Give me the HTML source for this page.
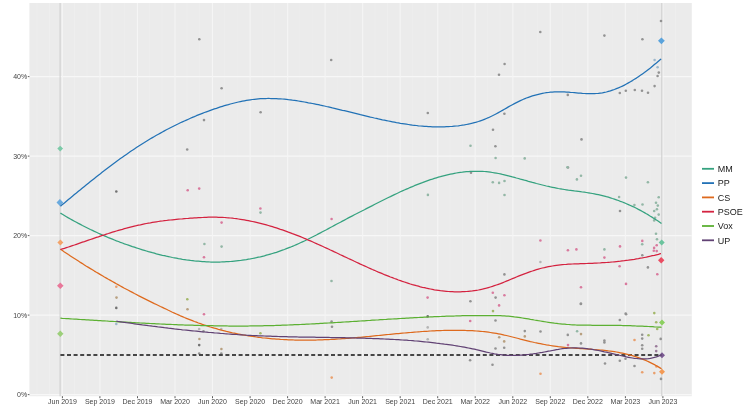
<!DOCTYPE html><html><head><meta charset="utf-8"><style>html,body{margin:0;padding:0;background:#fff;}svg{display:block;font-family:"Liberation Sans",sans-serif;will-change:transform;}</style></head><body><svg width="750" height="417" viewBox="0 0 750 417">
<rect x="0" y="0" width="750" height="417" fill="#ffffff"/>
<rect x="29.4" y="3.0" width="662.4" height="393.2" fill="#EBEBEB"/>
<line x1="36.9" y1="3.0" x2="36.9" y2="396.2" stroke="#EEEEEE" stroke-width="0.6"/>
<line x1="49.4" y1="3.0" x2="49.4" y2="396.2" stroke="#EEEEEE" stroke-width="0.6"/>
<line x1="74.4" y1="3.0" x2="74.4" y2="396.2" stroke="#EEEEEE" stroke-width="0.6"/>
<line x1="86.9" y1="3.0" x2="86.9" y2="396.2" stroke="#EEEEEE" stroke-width="0.6"/>
<line x1="112.0" y1="3.0" x2="112.0" y2="396.2" stroke="#EEEEEE" stroke-width="0.6"/>
<line x1="124.5" y1="3.0" x2="124.5" y2="396.2" stroke="#EEEEEE" stroke-width="0.6"/>
<line x1="149.5" y1="3.0" x2="149.5" y2="396.2" stroke="#EEEEEE" stroke-width="0.6"/>
<line x1="162.1" y1="3.0" x2="162.1" y2="396.2" stroke="#EEEEEE" stroke-width="0.6"/>
<line x1="187.1" y1="3.0" x2="187.1" y2="396.2" stroke="#EEEEEE" stroke-width="0.6"/>
<line x1="199.6" y1="3.0" x2="199.6" y2="396.2" stroke="#EEEEEE" stroke-width="0.6"/>
<line x1="224.7" y1="3.0" x2="224.7" y2="396.2" stroke="#EEEEEE" stroke-width="0.6"/>
<line x1="237.2" y1="3.0" x2="237.2" y2="396.2" stroke="#EEEEEE" stroke-width="0.6"/>
<line x1="262.2" y1="3.0" x2="262.2" y2="396.2" stroke="#EEEEEE" stroke-width="0.6"/>
<line x1="274.7" y1="3.0" x2="274.7" y2="396.2" stroke="#EEEEEE" stroke-width="0.6"/>
<line x1="299.8" y1="3.0" x2="299.8" y2="396.2" stroke="#EEEEEE" stroke-width="0.6"/>
<line x1="312.3" y1="3.0" x2="312.3" y2="396.2" stroke="#EEEEEE" stroke-width="0.6"/>
<line x1="337.3" y1="3.0" x2="337.3" y2="396.2" stroke="#EEEEEE" stroke-width="0.6"/>
<line x1="349.9" y1="3.0" x2="349.9" y2="396.2" stroke="#EEEEEE" stroke-width="0.6"/>
<line x1="374.9" y1="3.0" x2="374.9" y2="396.2" stroke="#EEEEEE" stroke-width="0.6"/>
<line x1="387.4" y1="3.0" x2="387.4" y2="396.2" stroke="#EEEEEE" stroke-width="0.6"/>
<line x1="412.5" y1="3.0" x2="412.5" y2="396.2" stroke="#EEEEEE" stroke-width="0.6"/>
<line x1="425.0" y1="3.0" x2="425.0" y2="396.2" stroke="#EEEEEE" stroke-width="0.6"/>
<line x1="450.0" y1="3.0" x2="450.0" y2="396.2" stroke="#EEEEEE" stroke-width="0.6"/>
<line x1="462.5" y1="3.0" x2="462.5" y2="396.2" stroke="#EEEEEE" stroke-width="0.6"/>
<line x1="487.6" y1="3.0" x2="487.6" y2="396.2" stroke="#EEEEEE" stroke-width="0.6"/>
<line x1="500.1" y1="3.0" x2="500.1" y2="396.2" stroke="#EEEEEE" stroke-width="0.6"/>
<line x1="525.1" y1="3.0" x2="525.1" y2="396.2" stroke="#EEEEEE" stroke-width="0.6"/>
<line x1="537.7" y1="3.0" x2="537.7" y2="396.2" stroke="#EEEEEE" stroke-width="0.6"/>
<line x1="562.7" y1="3.0" x2="562.7" y2="396.2" stroke="#EEEEEE" stroke-width="0.6"/>
<line x1="575.2" y1="3.0" x2="575.2" y2="396.2" stroke="#EEEEEE" stroke-width="0.6"/>
<line x1="600.3" y1="3.0" x2="600.3" y2="396.2" stroke="#EEEEEE" stroke-width="0.6"/>
<line x1="612.8" y1="3.0" x2="612.8" y2="396.2" stroke="#EEEEEE" stroke-width="0.6"/>
<line x1="637.8" y1="3.0" x2="637.8" y2="396.2" stroke="#EEEEEE" stroke-width="0.6"/>
<line x1="650.3" y1="3.0" x2="650.3" y2="396.2" stroke="#EEEEEE" stroke-width="0.6"/>
<line x1="675.4" y1="3.0" x2="675.4" y2="396.2" stroke="#EEEEEE" stroke-width="0.6"/>
<line x1="29.4" y1="394.6" x2="691.8" y2="394.6" stroke="#F7F7F7" stroke-width="1.1"/>
<line x1="29.4" y1="315.1" x2="691.8" y2="315.1" stroke="#F7F7F7" stroke-width="1.1"/>
<line x1="29.4" y1="235.6" x2="691.8" y2="235.6" stroke="#F7F7F7" stroke-width="1.1"/>
<line x1="29.4" y1="156.1" x2="691.8" y2="156.1" stroke="#F7F7F7" stroke-width="1.1"/>
<line x1="29.4" y1="76.6" x2="691.8" y2="76.6" stroke="#F7F7F7" stroke-width="1.1"/>
<line x1="62.4" y1="3.0" x2="62.4" y2="396.2" stroke="#F5F5F5" stroke-width="1.1"/>
<line x1="99.9" y1="3.0" x2="99.9" y2="396.2" stroke="#F5F5F5" stroke-width="1.1"/>
<line x1="137.5" y1="3.0" x2="137.5" y2="396.2" stroke="#F5F5F5" stroke-width="1.1"/>
<line x1="175.0" y1="3.0" x2="175.0" y2="396.2" stroke="#F5F5F5" stroke-width="1.1"/>
<line x1="212.5" y1="3.0" x2="212.5" y2="396.2" stroke="#F5F5F5" stroke-width="1.1"/>
<line x1="250.1" y1="3.0" x2="250.1" y2="396.2" stroke="#F5F5F5" stroke-width="1.1"/>
<line x1="287.6" y1="3.0" x2="287.6" y2="396.2" stroke="#F5F5F5" stroke-width="1.1"/>
<line x1="325.1" y1="3.0" x2="325.1" y2="396.2" stroke="#F5F5F5" stroke-width="1.1"/>
<line x1="362.6" y1="3.0" x2="362.6" y2="396.2" stroke="#F5F5F5" stroke-width="1.1"/>
<line x1="400.2" y1="3.0" x2="400.2" y2="396.2" stroke="#F5F5F5" stroke-width="1.1"/>
<line x1="437.7" y1="3.0" x2="437.7" y2="396.2" stroke="#F5F5F5" stroke-width="1.1"/>
<line x1="475.2" y1="3.0" x2="475.2" y2="396.2" stroke="#F5F5F5" stroke-width="1.1"/>
<line x1="512.8" y1="3.0" x2="512.8" y2="396.2" stroke="#F5F5F5" stroke-width="1.1"/>
<line x1="550.3" y1="3.0" x2="550.3" y2="396.2" stroke="#F5F5F5" stroke-width="1.1"/>
<line x1="587.8" y1="3.0" x2="587.8" y2="396.2" stroke="#F5F5F5" stroke-width="1.1"/>
<line x1="625.4" y1="3.0" x2="625.4" y2="396.2" stroke="#F5F5F5" stroke-width="1.1"/>
<line x1="662.9" y1="3.0" x2="662.9" y2="396.2" stroke="#F5F5F5" stroke-width="1.1"/>
<line x1="60.1" y1="3.0" x2="60.1" y2="396.2" stroke="#CFCFCF" stroke-width="1.1"/>
<line x1="661.8" y1="3.0" x2="661.8" y2="396.2" stroke="#CFCFCF" stroke-width="1.1"/>
<circle cx="199.3" cy="39.3" r="1.3" fill="#939393"/>
<circle cx="221.6" cy="88.2" r="1.3" fill="#939393"/>
<circle cx="204.0" cy="120.1" r="1.3" fill="#939393"/>
<circle cx="260.6" cy="112.3" r="1.3" fill="#939393"/>
<circle cx="187.2" cy="149.5" r="1.3" fill="#939393"/>
<circle cx="116.3" cy="191.5" r="1.3" fill="#727272"/>
<circle cx="331.2" cy="60.0" r="1.3" fill="#939393"/>
<circle cx="427.8" cy="113.0" r="1.3" fill="#939393"/>
<circle cx="470.5" cy="145.7" r="1.3" fill="#93b7a6"/>
<circle cx="493.0" cy="129.8" r="1.3" fill="#939393"/>
<circle cx="495.4" cy="146.3" r="1.3" fill="#939393"/>
<circle cx="495.6" cy="158.0" r="1.3" fill="#93b7a6"/>
<circle cx="499.0" cy="74.8" r="1.3" fill="#939393"/>
<circle cx="504.6" cy="64.0" r="1.3" fill="#939393"/>
<circle cx="504.4" cy="113.8" r="1.3" fill="#939393"/>
<circle cx="524.7" cy="158.4" r="1.3" fill="#93b7a6"/>
<circle cx="540.3" cy="32.0" r="1.3" fill="#939393"/>
<circle cx="567.8" cy="94.9" r="1.3" fill="#939393"/>
<circle cx="581.5" cy="139.4" r="1.3" fill="#939393"/>
<circle cx="568.0" cy="167.5" r="1.3" fill="#939393"/>
<circle cx="604.4" cy="35.6" r="1.3" fill="#939393"/>
<circle cx="642.4" cy="39.3" r="1.3" fill="#939393"/>
<circle cx="661.0" cy="21.0" r="1.3" fill="#939393"/>
<circle cx="654.6" cy="60.0" r="1.3" fill="#9db8cc"/>
<circle cx="657.6" cy="67.2" r="1.3" fill="#9db8cc"/>
<circle cx="658.8" cy="72.6" r="1.3" fill="#939393"/>
<circle cx="657.6" cy="76.0" r="1.3" fill="#939393"/>
<circle cx="654.6" cy="86.1" r="1.3" fill="#939393"/>
<circle cx="619.8" cy="93.0" r="1.3" fill="#939393"/>
<circle cx="625.8" cy="90.8" r="1.3" fill="#939393"/>
<circle cx="634.8" cy="90.0" r="1.3" fill="#939393"/>
<circle cx="642.0" cy="90.8" r="1.3" fill="#939393"/>
<circle cx="648.0" cy="92.7" r="1.3" fill="#939393"/>
<circle cx="204.4" cy="244.0" r="1.3" fill="#93b7a6"/>
<circle cx="221.6" cy="246.6" r="1.3" fill="#93b7a6"/>
<circle cx="260.5" cy="212.6" r="1.3" fill="#93b7a6"/>
<circle cx="331.5" cy="281.0" r="1.3" fill="#93b7a6"/>
<circle cx="427.9" cy="194.9" r="1.3" fill="#93b7a6"/>
<circle cx="471.0" cy="172.8" r="1.3" fill="#939393"/>
<circle cx="492.8" cy="182.2" r="1.3" fill="#93b7a6"/>
<circle cx="499.1" cy="182.9" r="1.3" fill="#93b7a6"/>
<circle cx="504.5" cy="181.0" r="1.3" fill="#93b7a6"/>
<circle cx="504.5" cy="195.0" r="1.3" fill="#93b7a6"/>
<circle cx="576.9" cy="179.4" r="1.3" fill="#93b7a6"/>
<circle cx="581.0" cy="175.8" r="1.3" fill="#93b7a6"/>
<circle cx="567.4" cy="167.3" r="1.3" fill="#93b7a6"/>
<circle cx="626.0" cy="177.6" r="1.3" fill="#93b7a6"/>
<circle cx="647.9" cy="182.2" r="1.3" fill="#93b7a6"/>
<circle cx="619.1" cy="197.0" r="1.3" fill="#93b7a6"/>
<circle cx="620.0" cy="211.0" r="1.3" fill="#939393"/>
<circle cx="634.4" cy="205.1" r="1.3" fill="#93b7a6"/>
<circle cx="642.5" cy="204.5" r="1.3" fill="#93b7a6"/>
<circle cx="658.7" cy="197.3" r="1.3" fill="#93b7a6"/>
<circle cx="656.0" cy="202.7" r="1.3" fill="#93b7a6"/>
<circle cx="657.8" cy="205.6" r="1.3" fill="#93b7a6"/>
<circle cx="656.9" cy="209.2" r="1.3" fill="#93b7a6"/>
<circle cx="654.2" cy="211.0" r="1.3" fill="#93b7a6"/>
<circle cx="658.7" cy="214.6" r="1.3" fill="#93b7a6"/>
<circle cx="655.1" cy="217.7" r="1.3" fill="#93b7a6"/>
<circle cx="654.2" cy="220.4" r="1.3" fill="#93b7a6"/>
<circle cx="656.0" cy="233.8" r="1.3" fill="#93b7a6"/>
<circle cx="604.4" cy="249.4" r="1.3" fill="#93b7a6"/>
<circle cx="642.2" cy="244.2" r="1.3" fill="#93b7a6"/>
<circle cx="657.0" cy="239.2" r="1.3" fill="#93b7a6"/>
<circle cx="187.7" cy="190.3" r="1.3" fill="#d97a9e"/>
<circle cx="199.2" cy="188.6" r="1.3" fill="#d97a9e"/>
<circle cx="221.6" cy="222.6" r="1.3" fill="#d97a9e"/>
<circle cx="260.4" cy="208.5" r="1.3" fill="#d97a9e"/>
<circle cx="204.0" cy="257.2" r="1.3" fill="#d97a9e"/>
<circle cx="331.6" cy="219.0" r="1.3" fill="#d97a9e"/>
<circle cx="427.6" cy="297.6" r="1.3" fill="#d97a9e"/>
<circle cx="470.4" cy="301.2" r="1.3" fill="#939393"/>
<circle cx="492.8" cy="292.8" r="1.3" fill="#d97a9e"/>
<circle cx="495.6" cy="297.6" r="1.3" fill="#939393"/>
<circle cx="504.4" cy="295.2" r="1.3" fill="#d97a9e"/>
<circle cx="499.1" cy="305.4" r="1.3" fill="#d97a9e"/>
<circle cx="504.4" cy="274.4" r="1.3" fill="#939393"/>
<circle cx="540.4" cy="240.5" r="1.3" fill="#d97a9e"/>
<circle cx="540.4" cy="262.0" r="1.3" fill="#b5b5b5"/>
<circle cx="567.9" cy="250.3" r="1.3" fill="#d97a9e"/>
<circle cx="576.4" cy="249.4" r="1.3" fill="#d97a9e"/>
<circle cx="581.0" cy="287.2" r="1.3" fill="#d97a9e"/>
<circle cx="581.0" cy="303.7" r="1.3" fill="#939393"/>
<circle cx="604.4" cy="257.6" r="1.3" fill="#d97a9e"/>
<circle cx="620.0" cy="246.4" r="1.3" fill="#d97a9e"/>
<circle cx="619.6" cy="266.2" r="1.3" fill="#d97a9e"/>
<circle cx="626.0" cy="283.9" r="1.3" fill="#d97a9e"/>
<circle cx="625.7" cy="313.6" r="1.3" fill="#939393"/>
<circle cx="642.3" cy="240.9" r="1.3" fill="#d97a9e"/>
<circle cx="642.3" cy="255.3" r="1.3" fill="#939393"/>
<circle cx="647.9" cy="267.4" r="1.3" fill="#939393"/>
<circle cx="656.7" cy="245.2" r="1.3" fill="#d97a9e"/>
<circle cx="654.1" cy="247.9" r="1.3" fill="#d97a9e"/>
<circle cx="653.8" cy="250.7" r="1.3" fill="#d97a9e"/>
<circle cx="656.7" cy="251.1" r="1.3" fill="#d97a9e"/>
<circle cx="657.3" cy="274.2" r="1.3" fill="#d97a9e"/>
<circle cx="116.3" cy="286.7" r="1.3" fill="#e9a06e"/>
<circle cx="116.5" cy="297.6" r="1.3" fill="#b8a080"/>
<circle cx="116.3" cy="307.9" r="1.3" fill="#727272"/>
<circle cx="116.3" cy="324.0" r="1.3" fill="#9db8cc"/>
<circle cx="187.3" cy="299.3" r="1.3" fill="#a3b86a"/>
<circle cx="187.5" cy="309.2" r="1.3" fill="#b8a080"/>
<circle cx="204.0" cy="314.2" r="1.3" fill="#d97a9e"/>
<circle cx="199.2" cy="329.0" r="1.3" fill="#b5b5b5"/>
<circle cx="203.5" cy="331.3" r="1.3" fill="#939393"/>
<circle cx="199.4" cy="339.0" r="1.3" fill="#b8a080"/>
<circle cx="199.2" cy="345.1" r="1.3" fill="#727272"/>
<circle cx="199.2" cy="353.6" r="1.3" fill="#939393"/>
<circle cx="221.3" cy="329.0" r="1.3" fill="#b5b5b5"/>
<circle cx="221.4" cy="349.0" r="1.3" fill="#b8a080"/>
<circle cx="221.3" cy="353.6" r="1.3" fill="#939393"/>
<circle cx="260.4" cy="333.2" r="1.3" fill="#a3b86a"/>
<circle cx="331.6" cy="321.6" r="1.3" fill="#939393"/>
<circle cx="332.0" cy="326.8" r="1.3" fill="#939393"/>
<circle cx="331.7" cy="377.6" r="1.3" fill="#e9a06e"/>
<circle cx="427.7" cy="316.4" r="1.3" fill="#727272"/>
<circle cx="427.7" cy="327.4" r="1.3" fill="#b5b5b5"/>
<circle cx="427.7" cy="339.3" r="1.3" fill="#b5b5b5"/>
<circle cx="470.2" cy="321.0" r="1.3" fill="#d97a9e"/>
<circle cx="470.1" cy="360.3" r="1.3" fill="#939393"/>
<circle cx="493.0" cy="311.1" r="1.3" fill="#a3b86a"/>
<circle cx="495.5" cy="320.5" r="1.3" fill="#939393"/>
<circle cx="499.2" cy="337.3" r="1.3" fill="#b8a080"/>
<circle cx="504.2" cy="341.4" r="1.3" fill="#b8a080"/>
<circle cx="495.5" cy="348.5" r="1.3" fill="#939393"/>
<circle cx="504.2" cy="347.7" r="1.3" fill="#939393"/>
<circle cx="492.5" cy="364.7" r="1.3" fill="#939393"/>
<circle cx="524.8" cy="331.1" r="1.3" fill="#939393"/>
<circle cx="524.8" cy="336.4" r="1.3" fill="#b8a080"/>
<circle cx="540.5" cy="331.5" r="1.3" fill="#939393"/>
<circle cx="540.5" cy="373.7" r="1.3" fill="#e9a06e"/>
<circle cx="567.8" cy="334.9" r="1.3" fill="#939393"/>
<circle cx="568.0" cy="345.1" r="1.3" fill="#d97a9e"/>
<circle cx="577.1" cy="331.3" r="1.3" fill="#93b7a6"/>
<circle cx="581.0" cy="334.1" r="1.3" fill="#b8a080"/>
<circle cx="581.0" cy="343.4" r="1.3" fill="#939393"/>
<circle cx="580.8" cy="303.9" r="1.3" fill="#939393"/>
<circle cx="626.1" cy="314.2" r="1.3" fill="#939393"/>
<circle cx="654.3" cy="313.1" r="1.3" fill="#a3b86a"/>
<circle cx="619.8" cy="320.0" r="1.3" fill="#939393"/>
<circle cx="604.4" cy="340.5" r="1.3" fill="#939393"/>
<circle cx="604.4" cy="342.4" r="1.3" fill="#939393"/>
<circle cx="634.5" cy="340.0" r="1.3" fill="#e9a06e"/>
<circle cx="642.2" cy="334.8" r="1.3" fill="#939393"/>
<circle cx="642.2" cy="338.6" r="1.3" fill="#939393"/>
<circle cx="642.2" cy="345.3" r="1.3" fill="#939393"/>
<circle cx="642.2" cy="348.8" r="1.3" fill="#939393"/>
<circle cx="648.5" cy="335.3" r="1.3" fill="#a3b86a"/>
<circle cx="656.2" cy="322.3" r="1.3" fill="#a3b86a"/>
<circle cx="657.2" cy="329.0" r="1.3" fill="#a3b86a"/>
<circle cx="660.7" cy="338.9" r="1.3" fill="#939393"/>
<circle cx="656.2" cy="346.3" r="1.3" fill="#9a7a9a"/>
<circle cx="656.2" cy="351.1" r="1.3" fill="#9a7a9a"/>
<circle cx="619.8" cy="360.7" r="1.3" fill="#939393"/>
<circle cx="625.5" cy="358.7" r="1.3" fill="#939393"/>
<circle cx="605.0" cy="363.5" r="1.3" fill="#939393"/>
<circle cx="634.5" cy="366.0" r="1.3" fill="#939393"/>
<circle cx="642.2" cy="372.2" r="1.3" fill="#e9a06e"/>
<circle cx="654.3" cy="373.1" r="1.3" fill="#e9a06e"/>
<circle cx="656.4" cy="366.4" r="1.3" fill="#e9a06e"/>
<circle cx="661.0" cy="378.9" r="1.3" fill="#939393"/>
<path d="M60.2,145.7 L63.1,148.6 L60.2,151.5 L57.3,148.6 Z" fill="#7ccaa8"/>
<path d="M59.9,199.1 L63.3,202.5 L59.9,205.9 L56.5,202.5 Z" fill="#6aaade"/>
<path d="M60.4,239.5 L63.4,242.5 L60.4,245.5 L57.4,242.5 Z" fill="#f2a36a"/>
<path d="M60.3,282.5 L63.6,285.8 L60.3,289.1 L57.0,285.8 Z" fill="#e8789a"/>
<path d="M60.3,330.6 L63.5,333.8 L60.3,337.0 L57.1,333.8 Z" fill="#9ccf7a"/>
<path d="M661.4,37.4 L664.8,40.8 L661.4,44.2 L658.0,40.8 Z" fill="#5aa3dc"/>
<path d="M661.7,239.6 L664.7,242.6 L661.7,245.6 L658.7,242.6 Z" fill="#6cc49e"/>
<path d="M661.2,257.1 L664.4,260.3 L661.2,263.5 L658.0,260.3 Z" fill="#ea4d62"/>
<path d="M662,319.5 L665.0,322.5 L662,325.5 L659.0,322.5 Z" fill="#8cd060"/>
<path d="M662,352.2 L665.0,355.2 L662,358.2 L659.0,355.2 Z" fill="#7a5a92"/>
<path d="M662,368.7 L665.0,371.7 L662,374.7 L659.0,371.7 Z" fill="#f39a55"/>
<line x1="60.4" y1="355" x2="661.3" y2="355" stroke="#464646" stroke-width="1.8" stroke-dasharray="4 2.6"/>
<path d="M60.4,213.1 L62.4,214.3 L64.4,215.5 L66.4,216.7 L68.4,217.9 L70.4,219.0 L72.4,220.1 L74.4,221.2 L76.4,222.3 L78.4,223.4 L80.4,224.4 L82.4,225.5 L84.4,226.5 L86.4,227.5 L88.4,228.5 L90.4,229.5 L92.4,230.4 L94.4,231.4 L96.4,232.3 L98.4,233.2 L100.4,234.1 L102.4,235.0 L104.4,235.9 L106.4,236.7 L108.4,237.6 L110.4,238.4 L112.4,239.2 L114.4,240.0 L116.4,240.8 L118.4,241.5 L120.4,242.3 L122.4,243.0 L124.4,243.8 L126.4,244.5 L128.4,245.2 L130.4,245.9 L132.4,246.6 L134.4,247.2 L136.4,247.9 L138.4,248.5 L140.4,249.2 L142.4,249.8 L144.4,250.4 L146.4,251.0 L148.4,251.6 L150.4,252.1 L152.4,252.7 L154.4,253.2 L156.4,253.8 L158.4,254.3 L160.4,254.8 L162.4,255.3 L164.4,255.7 L166.4,256.2 L168.4,256.6 L170.4,257.0 L172.4,257.5 L174.4,257.8 L176.4,258.2 L178.4,258.6 L180.4,258.9 L182.4,259.3 L184.4,259.6 L186.4,259.9 L188.4,260.1 L190.4,260.4 L192.4,260.6 L194.4,260.9 L196.4,261.1 L198.4,261.2 L200.4,261.4 L202.4,261.6 L204.4,261.7 L206.4,261.8 L208.4,261.9 L210.4,262.0 L212.4,262.0 L214.4,262.0 L216.4,262.0 L218.4,262.0 L220.4,262.0 L222.4,261.9 L224.4,261.8 L226.4,261.7 L228.4,261.6 L230.4,261.5 L232.4,261.3 L234.4,261.1 L236.4,260.9 L238.4,260.7 L240.4,260.5 L242.4,260.2 L244.4,259.9 L246.4,259.6 L248.4,259.2 L250.4,258.9 L252.4,258.5 L254.4,258.1 L256.4,257.7 L258.4,257.2 L260.4,256.8 L262.4,256.3 L264.4,255.8 L266.4,255.2 L268.4,254.7 L270.4,254.1 L272.4,253.5 L274.4,252.9 L276.4,252.3 L278.4,251.6 L280.4,250.9 L282.4,250.2 L284.4,249.5 L286.4,248.7 L288.4,247.9 L290.4,247.2 L292.4,246.3 L294.4,245.5 L296.4,244.6 L298.4,243.7 L300.4,242.8 L302.4,241.9 L304.4,241.0 L306.4,240.0 L308.4,239.0 L310.4,238.0 L312.4,237.0 L314.4,236.0 L316.4,235.0 L318.4,233.9 L320.4,232.9 L322.4,231.8 L324.4,230.7 L326.4,229.7 L328.4,228.6 L330.4,227.5 L332.4,226.5 L334.4,225.4 L336.4,224.3 L338.4,223.2 L340.4,222.2 L342.4,221.1 L344.4,220.1 L346.4,219.0 L348.4,217.9 L350.4,216.9 L352.4,215.9 L354.4,214.8 L356.4,213.8 L358.4,212.7 L360.4,211.7 L362.4,210.7 L364.4,209.7 L366.4,208.6 L368.4,207.6 L370.4,206.6 L372.4,205.6 L374.4,204.5 L376.4,203.5 L378.4,202.5 L380.4,201.5 L382.4,200.5 L384.4,199.5 L386.4,198.5 L388.4,197.5 L390.4,196.6 L392.4,195.6 L394.4,194.6 L396.4,193.7 L398.4,192.8 L400.4,191.8 L402.4,190.9 L404.4,190.0 L406.4,189.1 L408.4,188.3 L410.4,187.4 L412.4,186.6 L414.4,185.7 L416.4,184.9 L418.4,184.1 L420.4,183.3 L422.4,182.6 L424.4,181.8 L426.4,181.1 L428.4,180.4 L430.4,179.7 L432.4,179.1 L434.4,178.4 L436.4,177.8 L438.4,177.2 L440.4,176.7 L442.4,176.1 L444.4,175.6 L446.4,175.1 L448.4,174.6 L450.4,174.2 L452.4,173.8 L454.4,173.4 L456.4,173.0 L458.4,172.7 L460.4,172.4 L462.4,172.2 L464.4,171.9 L466.4,171.7 L468.4,171.6 L470.4,171.4 L472.4,171.3 L474.4,171.3 L476.4,171.3 L478.4,171.3 L480.4,171.3 L482.4,171.4 L484.4,171.5 L486.4,171.7 L488.4,171.9 L490.4,172.2 L492.4,172.5 L494.4,172.8 L496.4,173.1 L498.4,173.5 L500.4,173.9 L502.4,174.4 L504.4,174.8 L506.4,175.3 L508.4,175.8 L510.4,176.3 L512.4,176.9 L514.4,177.4 L516.4,178.0 L518.4,178.5 L520.4,179.1 L522.4,179.6 L524.4,180.2 L526.4,180.7 L528.4,181.3 L530.4,181.8 L532.4,182.4 L534.4,182.9 L536.4,183.5 L538.4,184.0 L540.4,184.5 L542.4,185.0 L544.4,185.5 L546.4,186.0 L548.4,186.4 L550.4,186.9 L552.4,187.3 L554.4,187.7 L556.4,188.1 L558.4,188.5 L560.4,188.8 L562.4,189.2 L564.4,189.5 L566.4,189.8 L568.4,190.1 L570.4,190.3 L572.4,190.6 L574.4,190.9 L576.4,191.1 L578.4,191.4 L580.4,191.7 L582.4,192.0 L584.4,192.2 L586.4,192.5 L588.4,192.8 L590.4,193.2 L592.4,193.5 L594.4,193.9 L596.4,194.3 L598.4,194.7 L600.4,195.1 L602.4,195.6 L604.4,196.1 L606.4,196.7 L608.4,197.2 L610.4,197.8 L612.4,198.5 L614.4,199.1 L616.4,199.8 L618.4,200.5 L620.4,201.3 L622.4,202.0 L624.4,202.8 L626.4,203.7 L628.4,204.6 L630.4,205.5 L632.4,206.4 L634.4,207.3 L636.4,208.3 L638.4,209.4 L640.4,210.4 L642.4,211.5 L644.4,212.6 L646.4,213.8 L648.4,214.9 L650.4,216.2 L652.4,217.4 L654.4,218.7 L656.4,220.0 L658.4,221.3 L660.4,222.7 L661.5,223.5" fill="none" stroke="#35A27F" stroke-width="1.25" stroke-linejoin="round" stroke-linecap="butt"/>
<path d="M60.4,206.3 L62.4,204.6 L64.4,203.0 L66.4,201.3 L68.4,199.6 L70.4,197.9 L72.4,196.3 L74.4,194.6 L76.4,193.0 L78.4,191.3 L80.4,189.7 L82.4,188.0 L84.4,186.4 L86.4,184.8 L88.4,183.2 L90.4,181.6 L92.4,180.0 L94.4,178.4 L96.4,176.8 L98.4,175.2 L100.4,173.7 L102.4,172.1 L104.4,170.6 L106.4,169.0 L108.4,167.5 L110.4,166.0 L112.4,164.5 L114.4,163.0 L116.4,161.5 L118.4,160.1 L120.4,158.6 L122.4,157.2 L124.4,155.8 L126.4,154.4 L128.4,153.0 L130.4,151.6 L132.4,150.3 L134.4,148.9 L136.4,147.6 L138.4,146.3 L140.4,145.0 L142.4,143.7 L144.4,142.5 L146.4,141.2 L148.4,140.0 L150.4,138.8 L152.4,137.6 L154.4,136.5 L156.4,135.3 L158.4,134.2 L160.4,133.1 L162.4,132.0 L164.4,130.9 L166.4,129.8 L168.4,128.8 L170.4,127.7 L172.4,126.7 L174.4,125.7 L176.4,124.7 L178.4,123.8 L180.4,122.8 L182.4,121.9 L184.4,121.0 L186.4,120.1 L188.4,119.2 L190.4,118.3 L192.4,117.4 L194.4,116.6 L196.4,115.7 L198.4,114.9 L200.4,114.1 L202.4,113.3 L204.4,112.5 L206.4,111.8 L208.4,111.1 L210.4,110.3 L212.4,109.6 L214.4,108.9 L216.4,108.3 L218.4,107.6 L220.4,106.9 L222.4,106.3 L224.4,105.7 L226.4,105.1 L228.4,104.6 L230.4,104.0 L232.4,103.5 L234.4,103.0 L236.4,102.5 L238.4,102.0 L240.4,101.6 L242.4,101.2 L244.4,100.8 L246.4,100.4 L248.4,100.1 L250.4,99.8 L252.4,99.5 L254.4,99.3 L256.4,99.1 L258.4,98.9 L260.4,98.7 L262.4,98.6 L264.4,98.5 L266.4,98.5 L268.4,98.4 L270.4,98.5 L272.4,98.5 L274.4,98.6 L276.4,98.6 L278.4,98.8 L280.4,98.9 L282.4,99.0 L284.4,99.2 L286.4,99.4 L288.4,99.7 L290.4,99.9 L292.4,100.2 L294.4,100.4 L296.4,100.7 L298.4,101.0 L300.4,101.3 L302.4,101.7 L304.4,102.0 L306.4,102.4 L308.4,102.8 L310.4,103.1 L312.4,103.5 L314.4,103.9 L316.4,104.3 L318.4,104.7 L320.4,105.2 L322.4,105.6 L324.4,106.0 L326.4,106.5 L328.4,106.9 L330.4,107.4 L332.4,107.9 L334.4,108.3 L336.4,108.8 L338.4,109.3 L340.4,109.8 L342.4,110.3 L344.4,110.7 L346.4,111.2 L348.4,111.7 L350.4,112.2 L352.4,112.7 L354.4,113.2 L356.4,113.7 L358.4,114.2 L360.4,114.7 L362.4,115.1 L364.4,115.6 L366.4,116.1 L368.4,116.6 L370.4,117.1 L372.4,117.5 L374.4,118.0 L376.4,118.4 L378.4,118.9 L380.4,119.3 L382.4,119.8 L384.4,120.2 L386.4,120.6 L388.4,121.0 L390.4,121.4 L392.4,121.8 L394.4,122.2 L396.4,122.6 L398.4,122.9 L400.4,123.3 L402.4,123.6 L404.4,123.9 L406.4,124.2 L408.4,124.5 L410.4,124.8 L412.4,125.1 L414.4,125.3 L416.4,125.5 L418.4,125.8 L420.4,126.0 L422.4,126.1 L424.4,126.3 L426.4,126.4 L428.4,126.6 L430.4,126.7 L432.4,126.8 L434.4,126.8 L436.4,126.9 L438.4,126.9 L440.4,126.9 L442.4,126.9 L444.4,126.8 L446.4,126.7 L448.4,126.6 L450.4,126.5 L452.4,126.4 L454.4,126.2 L456.4,126.0 L458.4,125.8 L460.4,125.5 L462.4,125.2 L464.4,124.9 L466.4,124.5 L468.4,124.1 L470.4,123.7 L472.4,123.2 L474.4,122.6 L476.4,122.1 L478.4,121.5 L480.4,120.8 L482.4,120.1 L484.4,119.3 L486.4,118.5 L488.4,117.7 L490.4,116.7 L492.4,115.8 L494.4,114.8 L496.4,113.7 L498.4,112.6 L500.4,111.5 L502.4,110.4 L504.4,109.2 L506.4,108.1 L508.4,106.9 L510.4,105.8 L512.4,104.7 L514.4,103.6 L516.4,102.6 L518.4,101.6 L520.4,100.6 L522.4,99.7 L524.4,98.8 L526.4,98.0 L528.4,97.3 L530.4,96.6 L532.4,95.9 L534.4,95.3 L536.4,94.8 L538.4,94.3 L540.4,93.8 L542.4,93.4 L544.4,93.0 L546.4,92.7 L548.4,92.5 L550.4,92.2 L552.4,92.1 L554.4,91.9 L556.4,91.9 L558.4,91.8 L560.4,91.8 L562.4,91.9 L564.4,91.9 L566.4,92.1 L568.4,92.2 L570.4,92.4 L572.4,92.5 L574.4,92.7 L576.4,92.9 L578.4,93.1 L580.4,93.2 L582.4,93.4 L584.4,93.5 L586.4,93.6 L588.4,93.7 L590.4,93.7 L592.4,93.7 L594.4,93.6 L596.4,93.5 L598.4,93.4 L600.4,93.1 L602.4,92.8 L604.4,92.4 L606.4,92.0 L608.4,91.4 L610.4,90.9 L612.4,90.2 L614.4,89.5 L616.4,88.7 L618.4,87.9 L620.4,87.0 L622.4,86.1 L624.4,85.1 L626.4,84.0 L628.4,82.9 L630.4,81.8 L632.4,80.6 L634.4,79.3 L636.4,78.1 L638.4,76.7 L640.4,75.3 L642.4,73.9 L644.4,72.5 L646.4,71.0 L648.4,69.4 L650.4,67.9 L652.4,66.3 L654.4,64.6 L656.4,63.0 L658.4,61.3 L660.4,59.6 L661.2,58.9" fill="none" stroke="#2272B6" stroke-width="1.25" stroke-linejoin="round" stroke-linecap="butt"/>
<path d="M60.4,249.2 L62.4,250.5 L64.4,251.9 L66.4,253.2 L68.4,254.6 L70.4,255.9 L72.4,257.2 L74.4,258.5 L76.4,259.8 L78.4,261.1 L80.4,262.4 L82.4,263.6 L84.4,264.9 L86.4,266.2 L88.4,267.4 L90.4,268.6 L92.4,269.8 L94.4,271.1 L96.4,272.3 L98.4,273.4 L100.4,274.6 L102.4,275.8 L104.4,277.0 L106.4,278.1 L108.4,279.3 L110.4,280.4 L112.4,281.5 L114.4,282.6 L116.4,283.8 L118.4,284.9 L120.4,286.0 L122.4,287.1 L124.4,288.2 L126.4,289.2 L128.4,290.3 L130.4,291.4 L132.4,292.4 L134.4,293.5 L136.4,294.5 L138.4,295.6 L140.4,296.6 L142.4,297.6 L144.4,298.6 L146.4,299.6 L148.4,300.6 L150.4,301.6 L152.4,302.6 L154.4,303.6 L156.4,304.5 L158.4,305.5 L160.4,306.5 L162.4,307.4 L164.4,308.4 L166.4,309.3 L168.4,310.3 L170.4,311.2 L172.4,312.2 L174.4,313.1 L176.4,314.0 L178.4,314.9 L180.4,315.8 L182.4,316.6 L184.4,317.5 L186.4,318.3 L188.4,319.1 L190.4,319.9 L192.4,320.7 L194.4,321.5 L196.4,322.2 L198.4,323.0 L200.4,323.7 L202.4,324.4 L204.4,325.0 L206.4,325.7 L208.4,326.3 L210.4,327.0 L212.4,327.6 L214.4,328.2 L216.4,328.7 L218.4,329.3 L220.4,329.8 L222.4,330.4 L224.4,330.9 L226.4,331.4 L228.4,331.8 L230.4,332.3 L232.4,332.8 L234.4,333.2 L236.4,333.6 L238.4,334.0 L240.4,334.4 L242.4,334.8 L244.4,335.1 L246.4,335.5 L248.4,335.8 L250.4,336.1 L252.4,336.4 L254.4,336.7 L256.4,337.0 L258.4,337.3 L260.4,337.5 L262.4,337.8 L264.4,338.0 L266.4,338.2 L268.4,338.4 L270.4,338.6 L272.4,338.8 L274.4,338.9 L276.4,339.1 L278.4,339.2 L280.4,339.4 L282.4,339.5 L284.4,339.6 L286.4,339.7 L288.4,339.8 L290.4,339.9 L292.4,339.9 L294.4,340.0 L296.4,340.0 L298.4,340.1 L300.4,340.1 L302.4,340.1 L304.4,340.1 L306.4,340.1 L308.4,340.1 L310.4,340.1 L312.4,340.1 L314.4,340.0 L316.4,340.0 L318.4,339.9 L320.4,339.9 L322.4,339.8 L324.4,339.7 L326.4,339.7 L328.4,339.6 L330.4,339.5 L332.4,339.4 L334.4,339.3 L336.4,339.1 L338.4,339.0 L340.4,338.9 L342.4,338.7 L344.4,338.6 L346.4,338.4 L348.4,338.3 L350.4,338.1 L352.4,338.0 L354.4,337.8 L356.4,337.6 L358.4,337.4 L360.4,337.3 L362.4,337.1 L364.4,336.9 L366.4,336.7 L368.4,336.5 L370.4,336.3 L372.4,336.1 L374.4,335.9 L376.4,335.7 L378.4,335.5 L380.4,335.3 L382.4,335.1 L384.4,334.9 L386.4,334.7 L388.4,334.5 L390.4,334.3 L392.4,334.1 L394.4,333.9 L396.4,333.7 L398.4,333.6 L400.4,333.4 L402.4,333.2 L404.4,333.0 L406.4,332.8 L408.4,332.6 L410.4,332.5 L412.4,332.3 L414.4,332.1 L416.4,332.0 L418.4,331.8 L420.4,331.7 L422.4,331.5 L424.4,331.4 L426.4,331.3 L428.4,331.2 L430.4,331.0 L432.4,330.9 L434.4,330.8 L436.4,330.7 L438.4,330.6 L440.4,330.6 L442.4,330.5 L444.4,330.4 L446.4,330.4 L448.4,330.4 L450.4,330.3 L452.4,330.3 L454.4,330.3 L456.4,330.3 L458.4,330.3 L460.4,330.3 L462.4,330.4 L464.4,330.4 L466.4,330.5 L468.4,330.5 L470.4,330.6 L472.4,330.7 L474.4,330.8 L476.4,331.0 L478.4,331.1 L480.4,331.3 L482.4,331.5 L484.4,331.7 L486.4,331.9 L488.4,332.2 L490.4,332.5 L492.4,332.8 L494.4,333.1 L496.4,333.4 L498.4,333.8 L500.4,334.2 L502.4,334.6 L504.4,335.1 L506.4,335.5 L508.4,336.0 L510.4,336.5 L512.4,337.0 L514.4,337.5 L516.4,338.0 L518.4,338.5 L520.4,339.1 L522.4,339.6 L524.4,340.1 L526.4,340.6 L528.4,341.1 L530.4,341.6 L532.4,342.0 L534.4,342.5 L536.4,342.9 L538.4,343.3 L540.4,343.7 L542.4,344.1 L544.4,344.5 L546.4,344.9 L548.4,345.2 L550.4,345.5 L552.4,345.8 L554.4,346.1 L556.4,346.4 L558.4,346.7 L560.4,346.9 L562.4,347.1 L564.4,347.3 L566.4,347.5 L568.4,347.7 L570.4,347.8 L572.4,348.0 L574.4,348.1 L576.4,348.3 L578.4,348.4 L580.4,348.6 L582.4,348.7 L584.4,348.8 L586.4,348.9 L588.4,349.1 L590.4,349.2 L592.4,349.4 L594.4,349.5 L596.4,349.7 L598.4,349.8 L600.4,350.0 L602.4,350.2 L604.4,350.4 L606.4,350.6 L608.4,350.9 L610.4,351.1 L612.4,351.4 L614.4,351.7 L616.4,352.0 L618.4,352.4 L620.4,352.8 L622.4,353.2 L624.4,353.6 L626.4,354.1 L628.4,354.6 L630.4,355.1 L632.4,355.7 L634.4,356.3 L636.4,356.9 L638.4,357.6 L640.4,358.3 L642.4,359.1 L644.4,359.9 L646.4,360.7 L648.4,361.6 L650.4,362.6 L652.4,363.6 L654.4,364.6 L656.4,365.7 L658.4,366.9 L660.4,368.1 L661.5,368.8" fill="none" stroke="#DE6A1E" stroke-width="1.25" stroke-linejoin="round" stroke-linecap="butt"/>
<path d="M60.4,249.5 L62.4,248.9 L64.4,248.3 L66.4,247.6 L68.4,247.0 L70.4,246.3 L72.4,245.6 L74.4,245.0 L76.4,244.3 L78.4,243.6 L80.4,242.9 L82.4,242.2 L84.4,241.6 L86.4,240.9 L88.4,240.2 L90.4,239.5 L92.4,238.8 L94.4,238.1 L96.4,237.4 L98.4,236.8 L100.4,236.1 L102.4,235.4 L104.4,234.8 L106.4,234.1 L108.4,233.5 L110.4,232.8 L112.4,232.2 L114.4,231.6 L116.4,231.0 L118.4,230.4 L120.4,229.8 L122.4,229.3 L124.4,228.7 L126.4,228.2 L128.4,227.6 L130.4,227.1 L132.4,226.6 L134.4,226.1 L136.4,225.7 L138.4,225.2 L140.4,224.8 L142.4,224.3 L144.4,223.9 L146.4,223.5 L148.4,223.1 L150.4,222.8 L152.4,222.4 L154.4,222.1 L156.4,221.8 L158.4,221.5 L160.4,221.2 L162.4,221.0 L164.4,220.7 L166.4,220.5 L168.4,220.2 L170.4,220.0 L172.4,219.8 L174.4,219.6 L176.4,219.4 L178.4,219.2 L180.4,219.0 L182.4,218.9 L184.4,218.7 L186.4,218.5 L188.4,218.4 L190.4,218.2 L192.4,218.1 L194.4,217.9 L196.4,217.8 L198.4,217.7 L200.4,217.6 L202.4,217.5 L204.4,217.4 L206.4,217.3 L208.4,217.2 L210.4,217.2 L212.4,217.2 L214.4,217.2 L216.4,217.2 L218.4,217.3 L220.4,217.3 L222.4,217.4 L224.4,217.5 L226.4,217.7 L228.4,217.8 L230.4,218.0 L232.4,218.2 L234.4,218.5 L236.4,218.7 L238.4,219.0 L240.4,219.3 L242.4,219.6 L244.4,219.9 L246.4,220.3 L248.4,220.7 L250.4,221.1 L252.4,221.5 L254.4,221.9 L256.4,222.4 L258.4,222.9 L260.4,223.4 L262.4,223.9 L264.4,224.4 L266.4,224.9 L268.4,225.5 L270.4,226.1 L272.4,226.7 L274.4,227.3 L276.4,227.9 L278.4,228.6 L280.4,229.3 L282.4,229.9 L284.4,230.6 L286.4,231.3 L288.4,232.1 L290.4,232.8 L292.4,233.6 L294.4,234.3 L296.4,235.1 L298.4,235.9 L300.4,236.7 L302.4,237.5 L304.4,238.4 L306.4,239.2 L308.4,240.1 L310.4,240.9 L312.4,241.8 L314.4,242.7 L316.4,243.6 L318.4,244.5 L320.4,245.4 L322.4,246.3 L324.4,247.2 L326.4,248.1 L328.4,249.0 L330.4,250.0 L332.4,250.9 L334.4,251.9 L336.4,252.8 L338.4,253.7 L340.4,254.7 L342.4,255.6 L344.4,256.6 L346.4,257.5 L348.4,258.5 L350.4,259.4 L352.4,260.3 L354.4,261.3 L356.4,262.2 L358.4,263.1 L360.4,264.1 L362.4,265.0 L364.4,265.9 L366.4,266.8 L368.4,267.7 L370.4,268.6 L372.4,269.5 L374.4,270.3 L376.4,271.2 L378.4,272.1 L380.4,272.9 L382.4,273.7 L384.4,274.6 L386.4,275.4 L388.4,276.2 L390.4,277.0 L392.4,277.7 L394.4,278.5 L396.4,279.2 L398.4,280.0 L400.4,280.7 L402.4,281.4 L404.4,282.0 L406.4,282.7 L408.4,283.3 L410.4,284.0 L412.4,284.6 L414.4,285.1 L416.4,285.7 L418.4,286.2 L420.4,286.8 L422.4,287.3 L424.4,287.7 L426.4,288.2 L428.4,288.6 L430.4,289.0 L432.4,289.4 L434.4,289.8 L436.4,290.1 L438.4,290.4 L440.4,290.7 L442.4,290.9 L444.4,291.1 L446.4,291.3 L448.4,291.5 L450.4,291.6 L452.4,291.7 L454.4,291.8 L456.4,291.8 L458.4,291.8 L460.4,291.8 L462.4,291.7 L464.4,291.6 L466.4,291.5 L468.4,291.3 L470.4,291.1 L472.4,290.9 L474.4,290.6 L476.4,290.3 L478.4,290.0 L480.4,289.6 L482.4,289.2 L484.4,288.7 L486.4,288.2 L488.4,287.6 L490.4,287.0 L492.4,286.4 L494.4,285.7 L496.4,285.0 L498.4,284.3 L500.4,283.6 L502.4,282.8 L504.4,282.0 L506.4,281.2 L508.4,280.4 L510.4,279.5 L512.4,278.7 L514.4,277.9 L516.4,277.0 L518.4,276.2 L520.4,275.4 L522.4,274.6 L524.4,273.8 L526.4,273.1 L528.4,272.3 L530.4,271.6 L532.4,271.0 L534.4,270.3 L536.4,269.7 L538.4,269.1 L540.4,268.5 L542.4,268.0 L544.4,267.6 L546.4,267.1 L548.4,266.7 L550.4,266.3 L552.4,266.0 L554.4,265.7 L556.4,265.4 L558.4,265.1 L560.4,264.9 L562.4,264.7 L564.4,264.5 L566.4,264.4 L568.4,264.2 L570.4,264.1 L572.4,264.0 L574.4,263.9 L576.4,263.8 L578.4,263.8 L580.4,263.7 L582.4,263.6 L584.4,263.6 L586.4,263.5 L588.4,263.4 L590.4,263.4 L592.4,263.3 L594.4,263.2 L596.4,263.1 L598.4,263.0 L600.4,262.9 L602.4,262.7 L604.4,262.6 L606.4,262.5 L608.4,262.3 L610.4,262.2 L612.4,262.0 L614.4,261.8 L616.4,261.6 L618.4,261.4 L620.4,261.2 L622.4,260.9 L624.4,260.7 L626.4,260.4 L628.4,260.2 L630.4,259.9 L632.4,259.6 L634.4,259.3 L636.4,258.9 L638.4,258.6 L640.4,258.2 L642.4,257.9 L644.4,257.5 L646.4,257.1 L648.4,256.6 L650.4,256.2 L652.4,255.7 L654.4,255.3 L656.4,254.8 L658.4,254.3 L660.4,253.7 L661.0,253.6" fill="none" stroke="#D42340" stroke-width="1.25" stroke-linejoin="round" stroke-linecap="butt"/>
<path d="M60.4,318.2 L62.4,318.4 L64.4,318.5 L66.4,318.6 L68.4,318.7 L70.4,318.8 L72.4,319.0 L74.4,319.1 L76.4,319.2 L78.4,319.3 L80.4,319.5 L82.4,319.6 L84.4,319.7 L86.4,319.8 L88.4,319.9 L90.4,320.1 L92.4,320.2 L94.4,320.3 L96.4,320.4 L98.4,320.6 L100.4,320.7 L102.4,320.8 L104.4,320.9 L106.4,321.0 L108.4,321.2 L110.4,321.3 L112.4,321.4 L114.4,321.5 L116.4,321.6 L118.4,321.8 L120.4,321.9 L122.4,322.0 L124.4,322.1 L126.4,322.2 L128.4,322.3 L130.4,322.4 L132.4,322.6 L134.4,322.7 L136.4,322.8 L138.4,322.9 L140.4,323.0 L142.4,323.1 L144.4,323.2 L146.4,323.3 L148.4,323.4 L150.4,323.5 L152.4,323.6 L154.4,323.7 L156.4,323.8 L158.4,323.9 L160.4,324.0 L162.4,324.1 L164.4,324.2 L166.4,324.3 L168.4,324.3 L170.4,324.4 L172.4,324.5 L174.4,324.6 L176.4,324.7 L178.4,324.8 L180.4,324.8 L182.4,324.9 L184.4,325.0 L186.4,325.0 L188.4,325.1 L190.4,325.2 L192.4,325.2 L194.4,325.3 L196.4,325.4 L198.4,325.4 L200.4,325.5 L202.4,325.5 L204.4,325.6 L206.4,325.6 L208.4,325.7 L210.4,325.7 L212.4,325.7 L214.4,325.8 L216.4,325.8 L218.4,325.8 L220.4,325.9 L222.4,325.9 L224.4,325.9 L226.4,325.9 L228.4,326.0 L230.4,326.0 L232.4,326.0 L234.4,326.0 L236.4,326.0 L238.4,326.0 L240.4,326.0 L242.4,326.0 L244.4,326.0 L246.4,326.0 L248.4,326.0 L250.4,325.9 L252.4,325.9 L254.4,325.9 L256.4,325.9 L258.4,325.8 L260.4,325.8 L262.4,325.8 L264.4,325.7 L266.4,325.7 L268.4,325.6 L270.4,325.6 L272.4,325.5 L274.4,325.5 L276.4,325.4 L278.4,325.3 L280.4,325.3 L282.4,325.2 L284.4,325.1 L286.4,325.1 L288.4,325.0 L290.4,324.9 L292.4,324.8 L294.4,324.7 L296.4,324.7 L298.4,324.6 L300.4,324.5 L302.4,324.4 L304.4,324.3 L306.4,324.2 L308.4,324.1 L310.4,324.0 L312.4,323.9 L314.4,323.8 L316.4,323.7 L318.4,323.6 L320.4,323.4 L322.4,323.3 L324.4,323.2 L326.4,323.1 L328.4,323.0 L330.4,322.9 L332.4,322.8 L334.4,322.6 L336.4,322.5 L338.4,322.4 L340.4,322.3 L342.4,322.1 L344.4,322.0 L346.4,321.9 L348.4,321.8 L350.4,321.6 L352.4,321.5 L354.4,321.4 L356.4,321.3 L358.4,321.1 L360.4,321.0 L362.4,320.9 L364.4,320.8 L366.4,320.6 L368.4,320.5 L370.4,320.4 L372.4,320.2 L374.4,320.1 L376.4,320.0 L378.4,319.9 L380.4,319.7 L382.4,319.6 L384.4,319.5 L386.4,319.4 L388.4,319.2 L390.4,319.1 L392.4,319.0 L394.4,318.9 L396.4,318.8 L398.4,318.6 L400.4,318.5 L402.4,318.4 L404.4,318.3 L406.4,318.2 L408.4,318.1 L410.4,317.9 L412.4,317.8 L414.4,317.7 L416.4,317.6 L418.4,317.5 L420.4,317.4 L422.4,317.3 L424.4,317.2 L426.4,317.1 L428.4,317.0 L430.4,316.9 L432.4,316.8 L434.4,316.7 L436.4,316.6 L438.4,316.6 L440.4,316.5 L442.4,316.4 L444.4,316.3 L446.4,316.2 L448.4,316.2 L450.4,316.1 L452.4,316.0 L454.4,316.0 L456.4,315.9 L458.4,315.9 L460.4,315.8 L462.4,315.7 L464.4,315.7 L466.4,315.7 L468.4,315.6 L470.4,315.6 L472.4,315.6 L474.4,315.5 L476.4,315.5 L478.4,315.5 L480.4,315.5 L482.4,315.5 L484.4,315.5 L486.4,315.5 L488.4,315.5 L490.4,315.5 L492.4,315.5 L494.4,315.5 L496.4,315.6 L498.4,315.7 L500.4,315.7 L502.4,315.8 L504.4,315.9 L506.4,316.1 L508.4,316.2 L510.4,316.4 L512.4,316.6 L514.4,316.9 L516.4,317.1 L518.4,317.4 L520.4,317.7 L522.4,318.0 L524.4,318.3 L526.4,318.6 L528.4,318.9 L530.4,319.3 L532.4,319.6 L534.4,320.0 L536.4,320.3 L538.4,320.7 L540.4,321.0 L542.4,321.3 L544.4,321.7 L546.4,322.0 L548.4,322.3 L550.4,322.6 L552.4,322.9 L554.4,323.2 L556.4,323.4 L558.4,323.7 L560.4,323.9 L562.4,324.1 L564.4,324.2 L566.4,324.4 L568.4,324.5 L570.4,324.7 L572.4,324.8 L574.4,324.9 L576.4,325.0 L578.4,325.0 L580.4,325.1 L582.4,325.1 L584.4,325.2 L586.4,325.2 L588.4,325.2 L590.4,325.2 L592.4,325.3 L594.4,325.3 L596.4,325.3 L598.4,325.3 L600.4,325.3 L602.4,325.3 L604.4,325.3 L606.4,325.3 L608.4,325.3 L610.4,325.3 L612.4,325.3 L614.4,325.3 L616.4,325.4 L618.4,325.4 L620.4,325.4 L622.4,325.5 L624.4,325.5 L626.4,325.6 L628.4,325.7 L630.4,325.7 L632.4,325.8 L634.4,325.9 L636.4,326.0 L638.4,326.0 L640.4,326.1 L642.4,326.2 L644.4,326.3 L646.4,326.4 L648.4,326.5 L650.4,326.6 L652.4,326.7 L654.4,326.9 L656.4,327.0 L658.4,327.1 L660.4,327.2 L661.5,327.3" fill="none" stroke="#5CB033" stroke-width="1.25" stroke-linejoin="round" stroke-linecap="butt"/>
<path d="M116.4,321.2 L118.4,321.5 L120.4,321.8 L122.4,322.1 L124.4,322.4 L126.4,322.7 L128.4,322.9 L130.4,323.2 L132.4,323.5 L134.4,323.8 L136.4,324.1 L138.4,324.3 L140.4,324.6 L142.4,324.9 L144.4,325.1 L146.4,325.4 L148.4,325.7 L150.4,325.9 L152.4,326.2 L154.4,326.4 L156.4,326.7 L158.4,327.0 L160.4,327.2 L162.4,327.4 L164.4,327.7 L166.4,327.9 L168.4,328.2 L170.4,328.4 L172.4,328.6 L174.4,328.9 L176.4,329.1 L178.4,329.3 L180.4,329.5 L182.4,329.8 L184.4,330.0 L186.4,330.2 L188.4,330.4 L190.4,330.6 L192.4,330.8 L194.4,331.0 L196.4,331.2 L198.4,331.4 L200.4,331.6 L202.4,331.8 L204.4,332.0 L206.4,332.2 L208.4,332.4 L210.4,332.5 L212.4,332.7 L214.4,332.9 L216.4,333.0 L218.4,333.2 L220.4,333.4 L222.4,333.5 L224.4,333.7 L226.4,333.8 L228.4,334.0 L230.4,334.1 L232.4,334.3 L234.4,334.4 L236.4,334.5 L238.4,334.7 L240.4,334.8 L242.4,334.9 L244.4,335.0 L246.4,335.2 L248.4,335.3 L250.4,335.4 L252.4,335.5 L254.4,335.6 L256.4,335.7 L258.4,335.8 L260.4,335.9 L262.4,335.9 L264.4,336.0 L266.4,336.1 L268.4,336.2 L270.4,336.2 L272.4,336.3 L274.4,336.4 L276.4,336.4 L278.4,336.5 L280.4,336.6 L282.4,336.6 L284.4,336.7 L286.4,336.7 L288.4,336.8 L290.4,336.8 L292.4,336.8 L294.4,336.9 L296.4,336.9 L298.4,337.0 L300.4,337.0 L302.4,337.0 L304.4,337.1 L306.4,337.1 L308.4,337.1 L310.4,337.2 L312.4,337.2 L314.4,337.2 L316.4,337.3 L318.4,337.3 L320.4,337.3 L322.4,337.4 L324.4,337.4 L326.4,337.4 L328.4,337.4 L330.4,337.5 L332.4,337.5 L334.4,337.5 L336.4,337.6 L338.4,337.6 L340.4,337.6 L342.4,337.7 L344.4,337.7 L346.4,337.8 L348.4,337.8 L350.4,337.8 L352.4,337.9 L354.4,337.9 L356.4,338.0 L358.4,338.0 L360.4,338.1 L362.4,338.1 L364.4,338.2 L366.4,338.3 L368.4,338.3 L370.4,338.4 L372.4,338.5 L374.4,338.5 L376.4,338.6 L378.4,338.7 L380.4,338.8 L382.4,338.9 L384.4,339.0 L386.4,339.1 L388.4,339.2 L390.4,339.3 L392.4,339.4 L394.4,339.5 L396.4,339.6 L398.4,339.7 L400.4,339.8 L402.4,340.0 L404.4,340.1 L406.4,340.2 L408.4,340.4 L410.4,340.5 L412.4,340.7 L414.4,340.9 L416.4,341.0 L418.4,341.2 L420.4,341.4 L422.4,341.6 L424.4,341.8 L426.4,342.0 L428.4,342.2 L430.4,342.4 L432.4,342.6 L434.4,342.8 L436.4,343.1 L438.4,343.3 L440.4,343.6 L442.4,343.8 L444.4,344.1 L446.4,344.3 L448.4,344.6 L450.4,344.9 L452.4,345.2 L454.4,345.5 L456.4,345.8 L458.4,346.2 L460.4,346.5 L462.4,346.8 L464.4,347.2 L466.4,347.6 L468.4,348.0 L470.4,348.4 L472.4,348.8 L474.4,349.2 L476.4,349.7 L478.4,350.1 L480.4,350.6 L482.4,351.1 L484.4,351.6 L486.4,352.1 L488.4,352.5 L490.4,353.0 L492.4,353.4 L494.4,353.8 L496.4,354.1 L498.4,354.5 L500.4,354.7 L502.4,354.9 L504.4,355.1 L506.4,355.3 L508.4,355.4 L510.4,355.4 L512.4,355.5 L514.4,355.4 L516.4,355.4 L518.4,355.3 L520.4,355.2 L522.4,355.1 L524.4,354.9 L526.4,354.7 L528.4,354.5 L530.4,354.2 L532.4,354.0 L534.4,353.7 L536.4,353.4 L538.4,353.0 L540.4,352.7 L542.4,352.4 L544.4,352.0 L546.4,351.6 L548.4,351.2 L550.4,350.9 L552.4,350.5 L554.4,350.1 L556.4,349.7 L558.4,349.4 L560.4,349.0 L562.4,348.7 L564.4,348.5 L566.4,348.3 L568.4,348.1 L570.4,348.0 L572.4,347.9 L574.4,347.9 L576.4,347.9 L578.4,348.0 L580.4,348.1 L582.4,348.2 L584.4,348.4 L586.4,348.6 L588.4,348.9 L590.4,349.1 L592.4,349.4 L594.4,349.8 L596.4,350.1 L598.4,350.5 L600.4,350.9 L602.4,351.3 L604.4,351.8 L606.4,352.2 L608.4,352.7 L610.4,353.1 L612.4,353.6 L614.4,354.1 L616.4,354.6 L618.4,355.0 L620.4,355.5 L622.4,356.0 L624.4,356.4 L626.4,356.9 L628.4,357.3 L630.4,357.7 L632.4,358.0 L634.4,358.3 L636.4,358.5 L638.4,358.7 L640.4,358.8 L642.4,358.9 L644.4,358.9 L646.4,358.8 L648.4,358.6 L650.4,358.3 L652.4,357.9 L654.4,357.4 L656.4,356.8 L658.4,356.1 L660.4,355.2 L661.5,354.7" fill="none" stroke="#614274" stroke-width="1.25" stroke-linejoin="round" stroke-linecap="butt"/>
<line x1="27.8" y1="394.6" x2="29.4" y2="394.6" stroke="#333333" stroke-width="0.8"/>
<text x="27.2" y="397.1" text-anchor="end" font-family="Liberation Sans, sans-serif" font-size="7" fill="#444444">0%</text>
<line x1="27.8" y1="315.1" x2="29.4" y2="315.1" stroke="#333333" stroke-width="0.8"/>
<text x="27.2" y="317.6" text-anchor="end" font-family="Liberation Sans, sans-serif" font-size="7" fill="#444444">10%</text>
<line x1="27.8" y1="235.6" x2="29.4" y2="235.6" stroke="#333333" stroke-width="0.8"/>
<text x="27.2" y="238.1" text-anchor="end" font-family="Liberation Sans, sans-serif" font-size="7" fill="#444444">20%</text>
<line x1="27.8" y1="156.1" x2="29.4" y2="156.1" stroke="#333333" stroke-width="0.8"/>
<text x="27.2" y="158.6" text-anchor="end" font-family="Liberation Sans, sans-serif" font-size="7" fill="#444444">30%</text>
<line x1="27.8" y1="76.6" x2="29.4" y2="76.6" stroke="#333333" stroke-width="0.8"/>
<text x="27.2" y="79.1" text-anchor="end" font-family="Liberation Sans, sans-serif" font-size="7" fill="#444444">40%</text>
<line x1="62.4" y1="396.2" x2="62.4" y2="398.2" stroke="#333333" stroke-width="0.8"/>
<text x="62.4" y="404.2" text-anchor="middle" font-family="Liberation Sans, sans-serif" font-size="7" fill="#444444">Jun 2019</text>
<line x1="99.9" y1="396.2" x2="99.9" y2="398.2" stroke="#333333" stroke-width="0.8"/>
<text x="99.9" y="404.2" text-anchor="middle" font-family="Liberation Sans, sans-serif" font-size="7" fill="#444444">Sep 2019</text>
<line x1="137.5" y1="396.2" x2="137.5" y2="398.2" stroke="#333333" stroke-width="0.8"/>
<text x="137.5" y="404.2" text-anchor="middle" font-family="Liberation Sans, sans-serif" font-size="7" fill="#444444">Dec 2019</text>
<line x1="175.0" y1="396.2" x2="175.0" y2="398.2" stroke="#333333" stroke-width="0.8"/>
<text x="175.0" y="404.2" text-anchor="middle" font-family="Liberation Sans, sans-serif" font-size="7" fill="#444444">Mar 2020</text>
<line x1="212.5" y1="396.2" x2="212.5" y2="398.2" stroke="#333333" stroke-width="0.8"/>
<text x="212.5" y="404.2" text-anchor="middle" font-family="Liberation Sans, sans-serif" font-size="7" fill="#444444">Jun 2020</text>
<line x1="250.1" y1="396.2" x2="250.1" y2="398.2" stroke="#333333" stroke-width="0.8"/>
<text x="250.1" y="404.2" text-anchor="middle" font-family="Liberation Sans, sans-serif" font-size="7" fill="#444444">Sep 2020</text>
<line x1="287.6" y1="396.2" x2="287.6" y2="398.2" stroke="#333333" stroke-width="0.8"/>
<text x="287.6" y="404.2" text-anchor="middle" font-family="Liberation Sans, sans-serif" font-size="7" fill="#444444">Dec 2020</text>
<line x1="325.1" y1="396.2" x2="325.1" y2="398.2" stroke="#333333" stroke-width="0.8"/>
<text x="325.1" y="404.2" text-anchor="middle" font-family="Liberation Sans, sans-serif" font-size="7" fill="#444444">Mar 2021</text>
<line x1="362.6" y1="396.2" x2="362.6" y2="398.2" stroke="#333333" stroke-width="0.8"/>
<text x="362.6" y="404.2" text-anchor="middle" font-family="Liberation Sans, sans-serif" font-size="7" fill="#444444">Jun 2021</text>
<line x1="400.2" y1="396.2" x2="400.2" y2="398.2" stroke="#333333" stroke-width="0.8"/>
<text x="400.2" y="404.2" text-anchor="middle" font-family="Liberation Sans, sans-serif" font-size="7" fill="#444444">Sep 2021</text>
<line x1="437.7" y1="396.2" x2="437.7" y2="398.2" stroke="#333333" stroke-width="0.8"/>
<text x="437.7" y="404.2" text-anchor="middle" font-family="Liberation Sans, sans-serif" font-size="7" fill="#444444">Dec 2021</text>
<line x1="475.2" y1="396.2" x2="475.2" y2="398.2" stroke="#333333" stroke-width="0.8"/>
<text x="475.2" y="404.2" text-anchor="middle" font-family="Liberation Sans, sans-serif" font-size="7" fill="#444444">Mar 2022</text>
<line x1="512.8" y1="396.2" x2="512.8" y2="398.2" stroke="#333333" stroke-width="0.8"/>
<text x="512.8" y="404.2" text-anchor="middle" font-family="Liberation Sans, sans-serif" font-size="7" fill="#444444">Jun 2022</text>
<line x1="550.3" y1="396.2" x2="550.3" y2="398.2" stroke="#333333" stroke-width="0.8"/>
<text x="550.3" y="404.2" text-anchor="middle" font-family="Liberation Sans, sans-serif" font-size="7" fill="#444444">Sep 2022</text>
<line x1="587.8" y1="396.2" x2="587.8" y2="398.2" stroke="#333333" stroke-width="0.8"/>
<text x="587.8" y="404.2" text-anchor="middle" font-family="Liberation Sans, sans-serif" font-size="7" fill="#444444">Dec 2022</text>
<line x1="625.4" y1="396.2" x2="625.4" y2="398.2" stroke="#333333" stroke-width="0.8"/>
<text x="625.4" y="404.2" text-anchor="middle" font-family="Liberation Sans, sans-serif" font-size="7" fill="#444444">Mar 2023</text>
<line x1="662.9" y1="396.2" x2="662.9" y2="398.2" stroke="#333333" stroke-width="0.8"/>
<text x="662.9" y="404.2" text-anchor="middle" font-family="Liberation Sans, sans-serif" font-size="7" fill="#444444">Jun 2023</text>
<line x1="702" y1="168.8" x2="714" y2="168.8" stroke="#35A27F" stroke-width="1.8"/>
<text x="717.8" y="172.1" font-family="Liberation Sans, sans-serif" font-size="9" fill="#1A1A1A">MM</text>
<line x1="702" y1="183.1" x2="714" y2="183.1" stroke="#2272B6" stroke-width="1.8"/>
<text x="717.8" y="186.4" font-family="Liberation Sans, sans-serif" font-size="9" fill="#1A1A1A">PP</text>
<line x1="702" y1="197.4" x2="714" y2="197.4" stroke="#DE6A1E" stroke-width="1.8"/>
<text x="717.8" y="200.7" font-family="Liberation Sans, sans-serif" font-size="9" fill="#1A1A1A">CS</text>
<line x1="702" y1="211.7" x2="714" y2="211.7" stroke="#D42340" stroke-width="1.8"/>
<text x="717.8" y="215.0" font-family="Liberation Sans, sans-serif" font-size="9" fill="#1A1A1A">PSOE</text>
<line x1="702" y1="226.0" x2="714" y2="226.0" stroke="#5CB033" stroke-width="1.8"/>
<text x="717.8" y="229.3" font-family="Liberation Sans, sans-serif" font-size="9" fill="#1A1A1A">Vox</text>
<line x1="702" y1="240.3" x2="714" y2="240.3" stroke="#614274" stroke-width="1.8"/>
<text x="717.8" y="243.6" font-family="Liberation Sans, sans-serif" font-size="9" fill="#1A1A1A">UP</text>
</svg></body></html>
